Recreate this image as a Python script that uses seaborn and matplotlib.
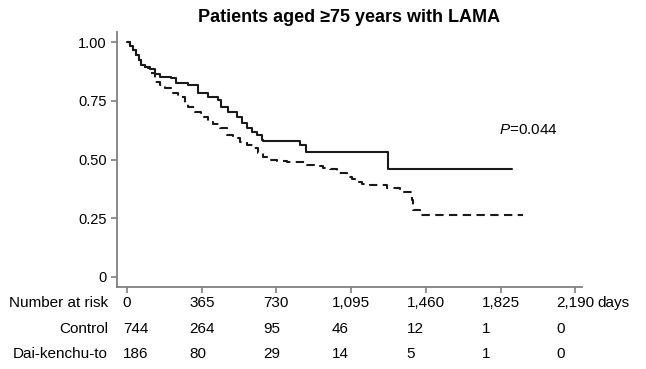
import numpy as np
import pandas as pd
import matplotlib
matplotlib.use("Agg")
import matplotlib.pyplot as plt
import seaborn as sns

# ---------------- data ----------------
title = "Patients aged \u226575 years with LAMA"
p_label = "=0.044"

solid_days = [0, 15, 29, 44, 59, 68, 88, 112, 137, 161, 215, 239, 298, 347, 396,
              445, 459, 493, 537, 562, 586, 611, 635, 660, 665, 845, 875, 1275, 1881]
solid_surv = [1.000, 0.983, 0.966, 0.945, 0.923, 0.902, 0.894, 0.885, 0.864, 0.851,
              0.847, 0.826, 0.817, 0.783, 0.766, 0.753, 0.723, 0.702, 0.681, 0.655,
              0.634, 0.617, 0.604, 0.583, 0.579, 0.562, 0.532, 0.460, 0.460]

dashed_days = [0, 15, 29, 44, 59, 68, 88, 103, 117, 137, 161, 186, 215, 249, 283,
               298, 332, 362, 396, 420, 454, 489, 518, 552, 586, 616, 640, 665, 699,
               733, 782, 879, 928, 958, 992, 1026, 1075, 1099, 1124, 1148, 1187,
               1270, 1334, 1392, 1397, 1432, 1935]
dashed_surv = [1.000, 0.983, 0.966, 0.945, 0.923, 0.902, 0.894, 0.889, 0.868, 0.830,
               0.817, 0.804, 0.783, 0.766, 0.740, 0.723, 0.702, 0.681, 0.660, 0.651,
               0.634, 0.604, 0.591, 0.574, 0.562, 0.549, 0.528, 0.511, 0.498, 0.494,
               0.489, 0.477, 0.472, 0.464, 0.460, 0.443, 0.426, 0.417, 0.404, 0.396,
               0.391, 0.379, 0.362, 0.328, 0.285, 0.264, 0.264]

x_ticks = [0, 365, 730, 1095, 1460, 1825, 2190]
x_tick_labels = ["0", "365", "730", "1,095", "1,460", "1,825", "2,190"]
y_ticks = [0, 0.25, 0.50, 0.75, 1.00]
y_tick_labels = ["0", "0.25", "0.50", "0.75", "1.00"]

risk_header = "Number at risk"
risk_groups = ["Control", "Dai-kenchu-to"]
risk_control = [744, 264, 95, 46, 12, 1, 0]
risk_dkt = [186, 80, 29, 14, 5, 1, 0]

# ---------------- style ----------------
sns.set_style("ticks")
plt.rcParams["font.family"] = ["Liberation Sans", "DejaVu Sans"]
plt.rcParams["mathtext.fontset"] = "custom"
plt.rcParams["mathtext.it"] = "Liberation Sans:italic"
plt.rcParams["mathtext.rm"] = "Liberation Sans"
plt.rcParams["text.color"] = "black"
plt.rcParams["axes.labelcolor"] = "black"
plt.rcParams["axes.titlecolor"] = "black"

W, H = 646, 369
fig = plt.figure(figsize=(W / 100, H / 100), dpi=100)
ax = fig.add_axes([117 / W, 1 - 287 / H, (582 - 117) / W, (287 - 32) / H])

df_solid = pd.DataFrame({"days": solid_days, "surv": solid_surv})
df_dash = pd.DataFrame({"days": dashed_days, "surv": dashed_surv})

line_col = "#1a1a1a"
sns.lineplot(data=df_solid, x="days", y="surv", ax=ax, color=line_col,
             linewidth=1.5, drawstyle="steps-post", sort=False, estimator=None)
sns.lineplot(data=df_dash, x="days", y="surv", ax=ax, color=line_col,
             linewidth=1.5, drawstyle="steps-post", sort=False, estimator=None,
             dashes=False, linestyle=(0, (4, 2.6)))

ax.set_xlim(-49, 2223)
ax.set_ylim(-0.0426, 1.0426)
ax.set_xlabel("")
ax.set_ylabel("")

spine_col = "#808080"
for s in ["top", "right"]:
    ax.spines[s].set_visible(False)
for s in ["left", "bottom"]:
    ax.spines[s].set_color(spine_col)
    ax.spines[s].set_linewidth(1.3)

ax.set_yticks(y_ticks)
ax.set_yticklabels(y_tick_labels)
ax.set_xticks(x_ticks)
ax.set_xticklabels(x_tick_labels)
ax.tick_params(axis="both", direction="out", color=spine_col, width=1.2,
               length=4.5, labelcolor="black")
ax.tick_params(axis="y", labelsize=10.5, pad=3)
ax.tick_params(axis="x", labelsize=11, pad=2)

ax.set_title(title, fontsize=13, fontweight="bold", pad=7, color="black")

ax.text(0.8215, 0.616, r"$\it{P}$" + p_label, transform=ax.transAxes,
        fontsize=11, ha="left", va="center", color="black")

# ---------------- number at risk table ----------------
fig.canvas.draw()
renderer = fig.canvas.get_renderer()
labels = ax.get_xticklabels()
lefts = [lab.get_window_extent(renderer).x0 for lab in labels]
last_right = labels[-1].get_window_extent(renderer).x1
label_base = labels[-1].get_window_extent(renderer)

fig.text((last_right + 3) / W, (label_base.y0 + label_base.y1) / 2 / H, "days",
         fontsize=11, ha="left", va="center")

row_y = [303, 329, 354]
fig.text(108 / W, 1 - row_y[0] / H, risk_header, fontsize=11, ha="right", va="center")
for name, vals, yy in zip(risk_groups, [risk_control, risk_dkt], row_y[1:]):
    fig.text(108 / W, 1 - yy / H, name, fontsize=11, ha="right", va="center")
    for lx, v in zip(lefts, vals):
        fig.text(lx / W, 1 - yy / H, str(v), fontsize=11, ha="left", va="center")

fig.savefig("out.png", dpi=100)
